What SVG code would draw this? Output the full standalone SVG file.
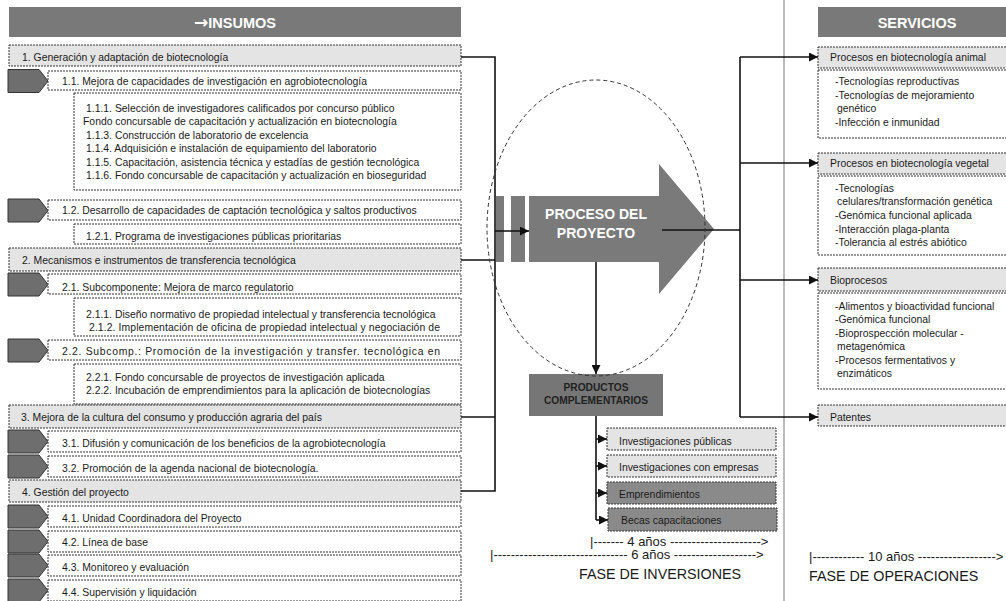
<svg xmlns="http://www.w3.org/2000/svg" width="1006" height="601" viewBox="0 0 1006 601">
  <style>
    .t { font-family: "Liberation Sans", Arial, sans-serif; font-size: 10.4px; fill: #1a1a1a; }
    .hdr { font-family: "Liberation Sans", Arial, sans-serif; font-size: 14.5px; font-weight: bold; fill: #ffffff; }
    .sym { font-family: "DejaVu Sans", sans-serif; font-size: 17px; }
    .big { font-family: "Liberation Sans", Arial, sans-serif; font-size: 14px; font-weight: bold; fill: #ffffff; }
    .pc { font-family: "Liberation Sans", Arial, sans-serif; font-size: 10.2px; font-weight: bold; fill: #222222; }
    .tl { font-family: "Liberation Sans", Arial, sans-serif; font-size: 13px; fill: #1a1a1a; }
    .fase { font-family: "Liberation Sans", Arial, sans-serif; font-size: 14.3px; fill: #1a1a1a; }
    .band { fill: #797979; }
    .box { fill: #ffffff; stroke: #333333; stroke-width: 1; stroke-dasharray: 2 1; }
    .lvl1 { fill: #e4e4e4; stroke: #333333; stroke-width: 1; stroke-dasharray: 2 1; }
    .dark { fill: #8a8a8a; stroke: #333333; stroke-width: 1; stroke-dasharray: 2 1; }
    .pent { fill: #6e6e6e; stroke: #333333; stroke-width: 1; }
    .conn { fill: none; stroke: #111111; stroke-width: 1.6; }
  </style>
  <defs>
    <marker id="ah" viewBox="0 0 10 10" refX="10" refY="5" markerWidth="9" markerHeight="9" markerUnits="userSpaceOnUse" orient="auto">
      <path d="M0,0 L10,5 L0,10 z" fill="#111111"/>
    </marker>
    <polygon id="tab" points="0,0 31,0 40,11.5 31,23 0,23" class="pent"/>
  </defs>

  <rect width="1006" height="601" fill="#ffffff"/>

  <!-- column headers -->
  <g id="insumos">
    <rect class="band" x="9" y="7" width="452" height="30"/>
    <text class="hdr" x="235" y="27.5" text-anchor="middle"><tspan class="sym">→</tspan>INSUMOS</text>
  </g>
  <g id="servicios">
    <rect class="band" x="818" y="7" width="200" height="30"/>
    <text class="hdr" x="917" y="27.5" text-anchor="middle">SERVICIOS</text>
  </g>

  <!-- separator between investment and operation phases -->
  <line x1="784" y1="0" x2="784" y2="601" stroke="#aaaaaa" stroke-width="1.6"/>

  <!-- component 1 -->
  <g id="c1">
    <rect class="lvl1" x="9" y="45" width="452" height="21"/>
    <text class="t" x="22" y="60.5">1. Generación y adaptación de biotecnología</text>
  </g>
  <g id="c1-1">
    <use href="#tab" x="8" y="69.5"/>
    <rect class="box" x="48" y="71" width="413" height="19"/>
    <text class="t" x="62" y="84.5">1.1. Mejora de capacidades de investigación en agrobiotecnología</text>
  </g>
  <g id="c1-1-x">
    <rect class="box" x="74" y="93" width="387" height="97"/>
    <text class="t" x="86" y="111.5">1.1.1. Selección de investigadores calificados por concurso público</text>
    <text class="t" x="83" y="125">Fondo concursable de capacitación y actualización en biotecnología</text>
    <text class="t" x="86" y="138.5">1.1.3. Construcción de laboratorio de excelencia</text>
    <text class="t" x="86" y="152">1.1.4. Adquisición e instalación de equipamiento del laboratorio</text>
    <text class="t" x="86" y="165.5">1.1.5. Capacitación, asistencia técnica y estadías de gestión tecnológica</text>
    <text class="t" x="86" y="179">1.1.6. Fondo concursable de capacitación y actualización en bioseguridad</text>
  </g>
  <g id="c1-2">
    <use href="#tab" x="8" y="199"/>
    <rect class="box" x="48" y="200" width="413" height="20"/>
    <text class="t" x="62" y="213.5">1.2. Desarrollo de capacidades de captación tecnológica y saltos productivos</text>
  </g>
  <g id="c1-2-1">
    <rect class="box" x="74" y="224" width="387" height="20"/>
    <text class="t" x="86" y="240">1.2.1. Programa de investigaciones públicas prioritarias</text>
  </g>

  <!-- component 2 -->
  <g id="c2">
    <rect class="lvl1" x="9" y="248" width="452" height="23"/>
    <text class="t" x="22" y="263.5">2. Mecanismos e instrumentos de transferencia tecnológica</text>
  </g>
  <g id="c2-1">
    <use href="#tab" x="8" y="273"/>
    <rect class="box" x="48" y="274" width="413" height="20"/>
    <text class="t" x="62" y="291">2.1. Subcomponente: Mejora de marco regulatorio</text>
  </g>
  <g id="c2-1-x">
    <rect class="box" x="74" y="298" width="387" height="38"/>
    <text class="t" x="86" y="318">2.1.1. Diseño normativo de propiedad intelectual y transferencia tecnológica</text>
    <text class="t" x="89" y="331" textLength="351" lengthAdjust="spacing">2.1.2. Implementación de oficina de propiedad intelectual y negociación de</text>
  </g>
  <g id="c2-2">
    <use href="#tab" x="8" y="339"/>
    <rect class="box" x="48" y="340" width="413" height="20"/>
    <text class="t" x="62" y="355" textLength="378" lengthAdjust="spacing">2.2. Subcomp.: Promoción de la investigación y transfer. tecnológica en</text>
  </g>
  <g id="c2-2-x">
    <rect class="box" x="74" y="364" width="387" height="40"/>
    <text class="t" x="86" y="380.5">2.2.1. Fondo concursable de proyectos de investigación aplicada</text>
    <text class="t" x="86" y="393.5">2.2.2. Incubación de emprendimientos para la aplicación de biotecnologías</text>
  </g>

  <!-- component 3 -->
  <g id="c3">
    <rect class="lvl1" x="9" y="405" width="452" height="23"/>
    <text class="t" x="21" y="421">3. Mejora de la cultura del consumo y producción agraria del país</text>
  </g>
  <g id="c3-1">
    <use href="#tab" x="8" y="430"/>
    <rect class="box" x="48" y="431" width="413" height="21"/>
    <text class="t" x="62" y="446.5">3.1. Difusión y comunicación de los beneficios de la agrobiotecnología</text>
  </g>
  <g id="c3-2">
    <use href="#tab" x="8" y="455"/>
    <rect class="box" x="48" y="456" width="413" height="21"/>
    <text class="t" x="62" y="471.5">3.2. Promoción de la agenda nacional de biotecnología.</text>
  </g>

  <!-- component 4 -->
  <g id="c4">
    <rect class="lvl1" x="9" y="480" width="452" height="22"/>
    <text class="t" x="22" y="495.5">4. Gestión del proyecto</text>
  </g>
  <g id="c4-1">
    <use href="#tab" x="8" y="505"/>
    <rect class="box" x="48" y="506" width="413" height="21"/>
    <text class="t" x="62" y="521.5">4.1. Unidad Coordinadora del Proyecto</text>
  </g>
  <g id="c4-2">
    <use href="#tab" x="8" y="530"/>
    <rect class="box" x="48" y="531" width="413" height="21"/>
    <text class="t" x="62" y="546">4.2. Línea de base</text>
  </g>
  <g id="c4-3">
    <use href="#tab" x="8" y="554"/>
    <rect class="box" x="48" y="555" width="413" height="21"/>
    <text class="t" x="62" y="570.5">4.3. Monitoreo y evaluación</text>
  </g>
  <g id="c4-4">
    <use href="#tab" x="8" y="579"/>
    <rect class="box" x="48" y="580" width="413" height="21"/>
    <text class="t" x="62" y="595.5">4.4. Supervisión y liquidación</text>
  </g>

  <!-- project process arrow -->
  <g id="proceso">
    <rect x="496" y="196" width="8" height="66" fill="#7a7a7a"/>
    <rect x="511" y="196" width="14" height="66" fill="#7a7a7a"/>
    <polygon points="529,196 659,196 659,164 714,229 659,294 659,262 529,262" fill="#7a7a7a"/>
    <text class="big" x="596" y="219" text-anchor="middle">PROCESO DEL</text>
    <text class="big" x="596" y="238" text-anchor="middle">PROYECTO</text>
  </g>

  <!-- complementary products -->
  <g id="productos">
    <rect x="529" y="374" width="134" height="42" fill="#767676"/>
    <text class="pc" x="596" y="391" text-anchor="middle">PRODUCTOS</text>
    <text class="pc" x="596" y="404" text-anchor="middle">COMPLEMENTARIOS</text>
  </g>
  <g id="p-inv-pub">
    <rect class="lvl1" x="607" y="428" width="169" height="22"/>
    <text class="t" x="619" y="444.5">Investigaciones públicas</text>
  </g>
  <g id="p-inv-emp">
    <rect class="lvl1" x="607" y="455" width="169" height="22"/>
    <text class="t" x="619" y="471">Investigaciones con empresas</text>
  </g>
  <g id="p-empr">
    <rect class="dark" x="607" y="482" width="169" height="22"/>
    <text class="t" x="619" y="497.5">Emprendimientos</text>
  </g>
  <g id="p-becas">
    <rect class="dark" x="608" y="508" width="169" height="23"/>
    <text class="t" x="621" y="524">Becas capacitaciones</text>
  </g>

  <!-- services -->
  <g id="s-animal">
    <rect class="lvl1" x="818" y="47" width="200" height="21"/>
    <text class="t" x="830" y="61">Procesos en biotecnología animal</text>
    <rect class="box" x="818" y="70" width="200" height="68"/>
    <text class="t" x="835" y="85">-Tecnologías reproductivas</text>
    <text class="t" x="835" y="98.5">-Tecnologías de mejoramiento</text>
    <text class="t" x="837" y="112">genético</text>
    <text class="t" x="835" y="125.5">-Infección e inmunidad</text>
  </g>
  <g id="s-vegetal">
    <rect class="lvl1" x="818" y="153" width="200" height="21"/>
    <text class="t" x="830" y="167">Procesos en biotecnología vegetal</text>
    <rect class="box" x="818" y="176" width="200" height="79"/>
    <text class="t" x="835" y="191.5">-Tecnologías</text>
    <text class="t" x="837" y="205">celulares/transformación genética</text>
    <text class="t" x="835" y="218.5">-Genómica funcional aplicada</text>
    <text class="t" x="835" y="232.5">-Interacción plaga-planta</text>
    <text class="t" x="835" y="245.5">-Tolerancia al estrés abiótico</text>
  </g>
  <g id="s-bioprocesos">
    <rect class="lvl1" x="818" y="268" width="200" height="23"/>
    <text class="t" x="830" y="283.5">Bioprocesos</text>
    <rect class="box" x="818" y="293" width="200" height="96"/>
    <text class="t" x="835" y="309.5">-Alimentos y bioactividad funcional</text>
    <text class="t" x="835" y="322.5">-Genómica funcional</text>
    <text class="t" x="835" y="336.5">-Bioprospección molecular  -</text>
    <text class="t" x="837" y="349.5">metagenómica</text>
    <text class="t" x="835" y="363.5">-Procesos fermentativos y</text>
    <text class="t" x="837" y="376.5">enzimáticos</text>
  </g>
  <g id="s-patentes">
    <rect class="lvl1" x="818" y="405" width="200" height="21"/>
    <text class="t" x="830" y="420.5">Patentes</text>
  </g>

  <!-- connectors -->
  <g id="connectors">
    <path class="conn" d="M461,57 H495 V491 H461"/>
    <path class="conn" d="M461,260 H495"/>
    <path class="conn" d="M461,417 H495"/>
    <path class="conn" d="M495,231 H529" marker-end="url(#ah)"/>
    <path class="conn" d="M662,230 H740"/>
    <path class="conn" d="M740,57 V417"/>
    <path class="conn" d="M740,57 H818" marker-end="url(#ah)"/>
    <path class="conn" d="M740,163 H818" marker-end="url(#ah)"/>
    <path class="conn" d="M740,280 H818" marker-end="url(#ah)"/>
    <path class="conn" d="M740,417 H818" marker-end="url(#ah)"/>
    <path class="conn" d="M596,262 V374" marker-end="url(#ah)"/>
    <path class="conn" d="M596,416 V520"/>
    <path class="conn" d="M596,439 H607" marker-end="url(#ah)"/>
    <path class="conn" d="M596,466 H607" marker-end="url(#ah)"/>
    <path class="conn" d="M596,493 H607" marker-end="url(#ah)"/>
    <path class="conn" d="M596,520 H608" marker-end="url(#ah)"/>
  </g>

  <!-- project scope outline -->
  <ellipse cx="596" cy="228" rx="109" ry="148" fill="none" stroke="#333333" stroke-width="1" stroke-dasharray="4 3"/>

  <!-- phase timelines -->
  <g id="fase-inversiones">
    <text class="tl" x="590" y="546">|------- 4 años ---------------------&gt;</text>
    <text class="tl" x="490" y="559">|------------------------------- 6 años -------------------&gt;</text>
    <text class="fase" x="579" y="579">FASE DE INVERSIONES</text>
  </g>
  <g id="fase-operaciones">
    <text class="tl" x="809" y="561">|------------ 10 años ------------------&gt;</text>
    <text class="fase" x="809" y="581">FASE DE OPERACIONES</text>
  </g>
</svg>
